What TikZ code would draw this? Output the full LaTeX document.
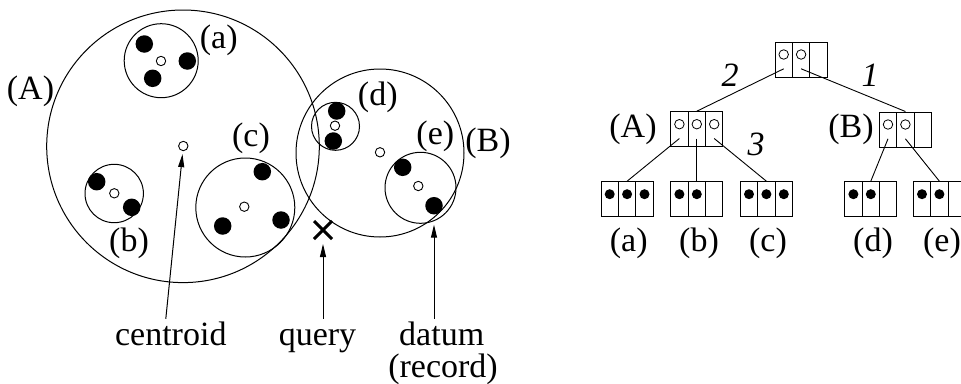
\documentclass[tikz,border=0pt]{standalone}
\usepackage{fontspec}
\setmainfont{Liberation Serif}
\usetikzlibrary{shapes.misc,arrows.meta}

\begin{document}
\begin{tikzpicture}
[x=1pt,y=-1pt,font=\fontsize{34}{40}\selectfont,
  clusterDecorate/.style={shape=circle,draw,line width=1pt,inner sep=0pt},
  centroidDecorate/.style={shape=circle,draw,line width=0.9pt,inner sep=0pt,minimum size=9.4pt},
  dataDecorate/.style={shape=circle,fill,inner sep=0pt,minimum size=17.5pt},
  cellDecorate/.style={shape=rectangle,draw,line width=1pt,inner sep=0pt,minimum width=17.4pt,minimum height=35pt},
  cellOpen/.style={shape=circle,draw,line width=0.8pt,inner sep=0pt,minimum size=9.5pt},
  cellFull/.style={shape=circle,fill,inner sep=0pt,minimum size=10pt},
  lineDecorate/.style={-,line width=0.9pt},
  arrowDecorate/.style={-{Triangle[length=13pt,width=6pt]},line width=1pt},
  bottomLabel/.style={anchor=base,text height=24pt,text depth=7pt,inner sep=2pt}]
\useasboundingbox (0,0) rectangle (961,383);
%% clusters
\foreach \nodename/\x/\y/\d in {
  A/183/146.3/272.6, a/161.2/60.7/74, b/114.2/193.5/58.4, c/245.3/207.5/99,
  B/380/153/168, d/335.5/126.3/48, e/420.5/187.8/71}
{
  \node (\nodename) at (\x,\y) [clusterDecorate,minimum size=\d pt] {};
}
%% centroids
\foreach \nodename/\x/\y in {
  cA/183.3/146, ca/161/61, cb/114.3/193.3, cc/244.3/206.7,
  cB/380/152.3, cd/335/125.7, ce/418.3/186}
{
  \node (\nodename) at (\x,\y) [centroidDecorate] {};
}
%% data
\foreach \nodename/\x/\y in {
  a1/144.3/44, a2/187.3/61, a3/152.7/78.3, b1/96.7/181.7, b2/131.7/207.3,
  c1/262.3/171.7, c2/222.7/226, c3/281/220, d1/336.7/111, d2/333.3/141,
  e1/402.7/167.3, e2/434/205.7}
{
  \node (\nodename) at (\x,\y) [dataDecorate] {};
}
%% labels
\foreach \nodename/\x/\y/\lbl in {
  lA/30.5/91/(A), la/218.7/40/(a), lb/129/243/(b), lc/251/138/(c),
  lB/488/143/(B), ld/377.8/97.5/(d), le/435.3/136.7/(e)}
{
  \node (\nodename) at (\x,\y) {\lbl};
}
%% query point
\node (query) at (323,230) [cross out,draw,line width=3pt,minimum size=15pt,inner sep=0pt] {};
\node (lCentroid) at (170.8,345) [bottomLabel] {centroid};
\node (lQuery) at (317.5,345) [bottomLabel] {query};
\node (lDatum) at (441.7,345) [bottomLabel] {datum};
\node (lRecord) at (443,377) [bottomLabel] {(record)};
\draw[arrowDecorate,shorten >=3pt] ([xshift=-5pt]lCentroid.north) -- (cA);
\draw[arrowDecorate,shorten >=5pt] (query.south |- lQuery.north) -- (query.south);
\draw[arrowDecorate] (e2 |- lDatum.north) -- ([yshift=-19pt]e2.center);
%% tree nodes
\foreach \nodename/\x/\y in {
  tR/801.1/59.5, tA/696.8/129.2, tB/905.4/129.5, ta/627.1/199.2,
  tb/696.8/199.2, tc/766.4/199.2, td/870.8/199.2, te/939.4/199.2}
{
  \foreach \i in {1,2,3}
  {
    \node (\nodename\i) at (\x+17.4*\i-34.8,\y) [cellDecorate] {};
  }
}
\foreach \nodename in {tR1,tR2,tA1,tA2,tA3,tB1,tB2}
{
  \node (m\nodename) at ([yshift=-13pt]\nodename.north) [cellOpen] {};
}
\foreach \nodename in {ta1,ta2,ta3,tb1,tb2,tc1,tc2,tc3,td1,td2,te1,te2}
{
  \node (m\nodename) at ([yshift=-13pt]\nodename.north) [cellFull] {};
}
%% tree edges
\path
\foreach \startnode/\endnode in {
  tR1/tA2, tR2/tB2, tA1/ta2, tA2/tb2, tA3/tc2, tB1/td2, tB2/te2}
{
  ([yshift=8.7pt]\startnode.south) edge[lineDecorate] (\endnode.north)
};
%% tree labels
\foreach \nodename/\x/\y/\lbl in {
  tlA/633/129/(A), tlB/851/129/(B), tla/628.7/243/(a), tlb/699/243/(b),
  tlc/768/243/(c), tld/873/243/(d), tle/942/243/(e)}
{
  \node (\nodename) at (\x,\y) {\lbl};
}
\foreach \nodename/\x/\y/\lbl in {w2/730/75/2, w1/870/75.5/1, w3/756/144/3}
{
  \node (\nodename) at (\x,\y) {\itshape\lbl};
}
\end{tikzpicture}
\end{document}
